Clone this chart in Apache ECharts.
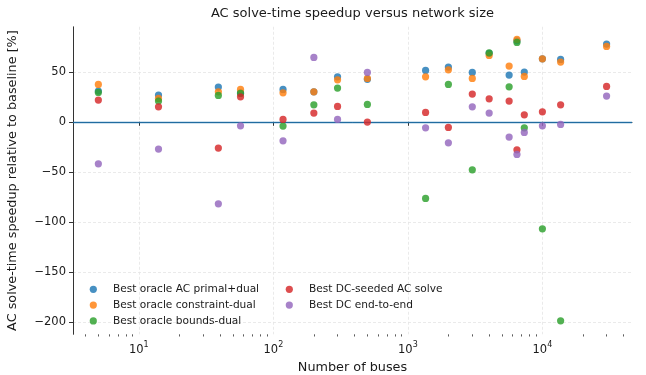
<!DOCTYPE html>
<html>
<head>
<meta charset="utf-8">
<script src="https://cdn.jsdelivr.net/npm/echarts@6/dist/echarts.min.js"></script>
<style>
html,body{margin:0;padding:0;background:#fff;}
#chart{width:646px;height:375px;}
</style>
</head>
<body>
<div id="chart"></div>
<script>
// ---- data ----
const buses = [5, 14, 39, 57, 118, 200, 300, 500, 1354, 2000, 3012, 4020, 5658, 6468, 7336, 10000, 13659, 30000];
const primalDual     = [30.7, 26.7, 34.7, 29, 32.4, 30, 45, 42.5, 51.4, 54.7, 49.4, 68.5, 46.7, 81, 49.7, 63, 62.4, 77.7];
const constraintDual = [37.4, 23.4, 30, 32.4, 29, 30, 42, 43.4, 45, 52, 43.4, 66.4, 55.7, 82.4, 45.4, 63, 59.7, 75.4];
const boundsDual     = [29.4, 20.7, 26.4, 28.4, -4.3, 17, 33.7, 17.4, -76.6, 37.4, -48, 69, 35, 79.4, -6, -107, -199, null];
const dcSeeded       = [21.7, 15, -26.3, 25, 2.4, 8.7, 15.4, -0.3, 9.4, -5.6, 27.7, 23, 20.7, -28, 7, 10, 17, 35.4];
const dcEndToEnd     = [-42, -27.3, -82, -4, -19, 64.4, 2.4, 49.4, -6, -21, 15, 8.7, -15.3, -32.6, -10.6, -4, -2.6, 25.7];
const seriesNames = ['Best oracle AC primal+dual', 'Best oracle constraint-dual', 'Best oracle bounds-dual', 'Best DC-seeded AC solve', 'Best DC end-to-end'];
const xMajorTicks = [10, 100, 1000, 10000];
const xMinorTicks = [4,5,6,7,8,9,20,30,40,50,60,70,80,90,200,300,400,500,600,700,800,900,2000,3000,4000,5000,6000,7000,8000,9000,20000,30000,40000];
const yTicks = [-200, -150, -100, -50, 0, 50];
const titleText = 'AC solve-time speedup versus network size';
const xName = 'Number of buses';
const yName = 'AC solve-time speedup relative to baseline [%]';

const colors = ['#1f77b4', '#ff7f0e', '#2ca02c', '#d62728', '#9467bd'];
const allValues = [primalDual, constraintDual, boundsDual, dcSeeded, dcEndToEnd];

function pairs(vals) {
  const out = [];
  for (let i = 0; i < buses.length; i++) if (vals[i] !== null) out.push([buses[i], vals[i]]);
  return out;
}

const FONT = 'DejaVu Sans';
const TXT = '#1a1a1a';
const AX = '#333';
const TICKFS = 11.5;
const NAMEFS = 12.8;

const series = allValues.map((vals, k) => ({
  name: seriesNames[k],
  type: 'scatter',
  xAxisIndex: 0,
  data: pairs(vals),
  symbol: 'circle',
  symbolSize: 7.2,
  itemStyle: { color: colors[k], opacity: 0.82 },
  emphasis: { disabled: true },
  z: 3 + k
}));
series[0].markLine = {
  silent: true,
  symbol: ['none', 'none'],
  label: { show: false },
  lineStyle: { color: '#1f77b4', width: 1.4, type: 'solid', opacity: 0.85 },
  data: [{ yAxis: 0 }],
  z: 2
};

const legendCommon = {
  orient: 'vertical',
  padding: 0,
  icon: 'circle',
  itemWidth: 7.2,
  itemHeight: 7.2,
  itemGap: 3.8,
  textStyle: { fontFamily: FONT, fontSize: 10.6, color: TXT, lineHeight: 12, padding: [0, 0, 0, 11] },
  selectedMode: false
};

const option = {
  animation: false,
  backgroundColor: '#fff',
  textStyle: { fontFamily: FONT },
  title: {
    text: titleText,
    left: 352.5,
    top: 7,
    padding: 0,
    textAlign: 'center',
    textStyle: { fontFamily: FONT, fontSize: 13, fontWeight: 'normal', color: TXT }
  },
  legend: [
    Object.assign({}, legendCommon, { data: seriesNames.slice(0, 3), left: 89.7, top: 283.3 }),
    Object.assign({}, legendCommon, { data: seriesNames.slice(3), left: 285.7, top: 283.3 })
  ],
  grid: { left: 73, right: 14, top: 26.8, bottom: 40.7, containLabel: false, outerBoundsMode: 'none' },
  xAxis: [{
    type: 'log',
    logBase: 10,
    min: 3.24,
    max: 46350,
    position: 'bottom',
    name: xName,
    nameLocation: 'middle',
    nameGap: 26,
    nameTextStyle: { fontFamily: FONT, fontSize: NAMEFS, color: TXT },
    axisLine: { show: true, lineStyle: { color: AX, width: 1 } },
    axisTick: { show: true, length: 4, lineStyle: { color: AX, width: 1 }, customValues: xMajorTicks },
    axisLabel: {
      customValues: xMajorTicks,
      margin: 7,
      formatter: function (v) {
        const e = Math.round(Math.log10(v));
        return '{b|10}{s|' + e + '}';
      },
      rich: {
        b: { fontFamily: FONT, fontSize: TICKFS, color: TXT, lineHeight: 15, verticalAlign: 'bottom' },
        s: { fontFamily: FONT, fontSize: 8, color: TXT, lineHeight: 9, verticalAlign: 'top' }
      }
    },
    splitLine: { show: true, lineStyle: { color: '#e4e4e4', width: 0.8, type: [3, 2] } }
  }, {
    type: 'log',
    logBase: 10,
    min: 3.24,
    max: 46350,
    position: 'bottom',
    axisLine: { show: false },
    axisTick: { show: true, length: 2.2, lineStyle: { color: AX, width: 0.8 }, customValues: xMinorTicks },
    axisLabel: { show: false },
    splitLine: { show: false }
  }],
  yAxis: {
    type: 'value',
    min: -212.5,
    max: 95,
    name: yName,
    nameLocation: 'middle',
    nameGap: 53.5,
    nameTextStyle: { fontFamily: FONT, fontSize: NAMEFS, color: TXT },
    axisLine: { show: true, lineStyle: { color: AX, width: 1 } },
    axisTick: { show: true, length: 4, lineStyle: { color: AX, width: 1 }, customValues: yTicks },
    axisLabel: {
      customValues: yTicks,
      margin: 7,
      fontFamily: FONT,
      fontSize: TICKFS,
      color: TXT,
      formatter: function (v) { return v < 0 ? '\u2212' + Math.abs(v) : String(v); }
    },
    splitLine: { show: true, lineStyle: { color: '#e4e4e4', width: 0.8, type: [3, 2] } }
  },
  series: series
};

const chart = echarts.init(document.getElementById('chart'), null, { renderer: 'canvas' });
chart.setOption(option);
</script>
</body>
</html>
